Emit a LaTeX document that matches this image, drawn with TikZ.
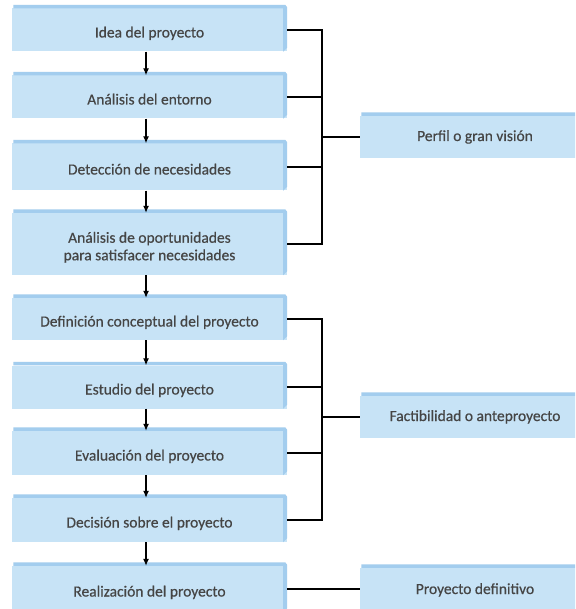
\documentclass[tikz,border=0pt]{standalone}
\usepackage{fontspec}
\setmainfont{Carlito}
\newfontfamily\stagefont{Carlito}[FakeBold=0.5]
\usepackage{tikz}
\usetikzlibrary{arrows.meta,positioning}
\definecolor{boxfill}{HTML}{C7E3F6}
\definecolor{boxedge}{HTML}{A3CDEE}
\definecolor{boxtext}{HTML}{454545}
\tikzset{stage/.style={rectangle,fill=boxfill,minimum width=275pt,minimum height=43pt,
        inner sep=0,text=boxtext,align=center,text height=15pt,text depth=0pt,
        font=\stagefont\fontsize{15.5}{17.5}\selectfont},
    phase/.style={stage,minimum width=230pt,text height=8pt},
    link/.style={draw,line width=1.8pt},
    flow/.style={-{Latex[length=7pt,width=6pt]},line width=1.2pt}}

\begin{document}
\begin{tikzpicture}[x=1pt,y=-1pt]

\clip (0,0) rectangle (575,609);
\fill [white] (0,0) rectangle (575,609);

\node (idea) [stage] at (149.5,30) {Idea del proyecto};
\node (entorno) [stage] at (149.5,97) {Análisis del entorno};
\node (necesid) [stage,minimum height=47pt] at (149.5,167) {Detección de necesidades};
\node (oportun) [stage,minimum height=62pt,text height=32.5pt] at (149.5,244) {Análisis de oportunidades\\para satisfacer necesidades};
\node (defcon) [stage,minimum height=42pt] at (149.5,319) {Definición conceptual del proyecto};
\node (estudio) [stage] at (149.5,387) {Estudio del proyecto};
\node (evalua) [stage,minimum height=44pt] at (149.5,453) {Evaluación del proyecto};
\node (decis) [stage,minimum height=44pt] at (149.5,520) {Decisión sobre el proyecto};
\node (realiz) [stage,minimum height=46pt] at (149.5,589) {Realización del proyecto};

\node (perfil) [phase,minimum height=42pt] at (475,137) {Perfil o gran visión};
\node (factib) [phase,minimum height=42pt] at (475,417) {Factibilidad o anteproyecto};
\node (defini) [phase,minimum height=44pt] at (475,590) {Proyecto definitivo};

% top and right edges of the boxes
\foreach \n in {idea,entorno,necesid,oportun,defcon,estudio,evalua,decis,realiz,perfil,factib,defini}
  \fill [boxedge] ([xshift=1.5pt]\n.north west) -- ([xshift=1.5pt,yshift=3.5pt]\n.north west)
    -- ([xshift=-2pt,yshift=3.5pt]\n.north east) -- ([yshift=1pt]\n.north east)
    -- ([yshift=4pt]\n.south east) -- ([xshift=-4pt]\n.south east)
    -- ([xshift=-4pt]\n.north east) -- cycle;

\coordinate (axis) at (146,0);

\draw [flow] (idea.south -| axis) -- (entorno.north -| axis);
\draw [flow] (entorno.south -| axis) -- (necesid.north -| axis);
\draw [flow] (necesid.south -| axis) -- (oportun.north -| axis);
\draw [flow] (oportun.south -| axis) -- (defcon.north -| axis);
\draw [flow] (defcon.south -| axis) -- (estudio.north -| axis);
\draw [flow] (estudio.south -| axis) -- (evalua.north -| axis);
\draw [flow] (evalua.south -| axis) -- (decis.north -| axis);
\draw [flow] (decis.south -| axis) -- (realiz.north -| axis);

\coordinate (brkA) at (322,0);
\coordinate (brkB) at (322,0);

\draw [link] (idea.east) -- (idea.east -| brkA) -- (oportun.east -| brkA) -- (oportun.east);
\draw [link] (entorno.east) -- (entorno.east -| brkA);
\draw [link] (necesid.east) -- (necesid.east -| brkA);
\draw [link] (perfil.west -| brkA) -- (perfil.west);

\draw [link] (defcon.east) -- (defcon.east -| brkB) -- (decis.east -| brkB) -- (decis.east);
\draw [link] (estudio.east) -- (estudio.east -| brkB);
\draw [link] (evalua.east) -- (evalua.east -| brkB);
\draw [link] (factib.west -| brkB) -- (factib.west);

\draw [link] (realiz.east) -- (realiz.east -| defini.west);

\end{tikzpicture}
\end{document}
